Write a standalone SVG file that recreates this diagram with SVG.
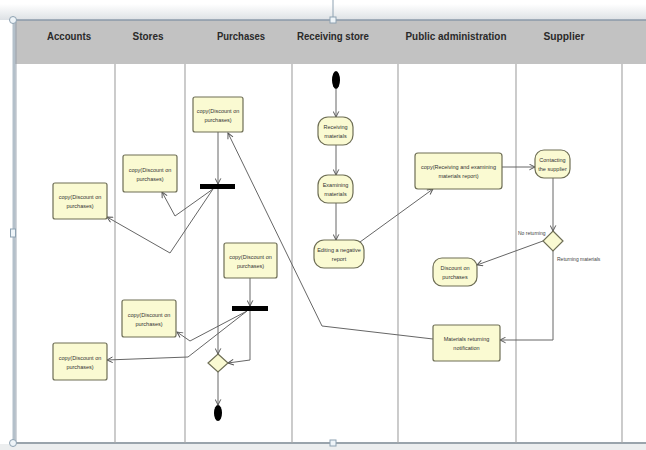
<svg xmlns="http://www.w3.org/2000/svg" width="646" height="450" viewBox="0 0 646 450">
  <defs>
    <linearGradient id="topShade" x1="0" y1="0" x2="0" y2="1">
      <stop offset="0" stop-color="#ffffff"/>
      <stop offset="1" stop-color="#dde1e5"/>
    </linearGradient>
    <marker id="arrow" viewBox="0 0 10 10" refX="9" refY="5" markerWidth="7" markerHeight="7" orient="auto" markerUnits="userSpaceOnUse">
      <path d="M1,1 L9,5 L1,9" fill="none" stroke="#555" stroke-width="1.4"/>
    </marker>
    <style>
      .lane { stroke: #a9a9a9; stroke-width: 1.2; }
      .hdr { font-family: "Liberation Sans", Arial, sans-serif; font-size: 10px; font-weight: bold; fill: #2a2a2a; text-anchor: middle; }
      .obj { fill: #fafad2; stroke: #6e6e55; stroke-width: 1.2; }
      .act { fill: #fafad2; stroke: #6e6e55; stroke-width: 1.2; }
      .lbl { font-family: "Liberation Sans", Arial, sans-serif; font-size: 5.5px; fill: #333; text-anchor: middle; }
      .note { font-family: "Liberation Sans", Arial, sans-serif; font-size: 5px; fill: #444; }
      .bar { fill: #000; }
      .conn { fill: none; stroke: #666; stroke-width: 1; marker-end: url(#arrow); }
      .handle { fill: #eef4f8; stroke: #8ea2b2; stroke-width: 1; }
    </style>
  </defs>

  <!-- canvas and swimlane frame -->
  <rect x="0" y="0" width="646" height="450" fill="#ffffff"/>
  <rect x="0" y="4" width="646" height="16" fill="url(#topShade)"/>
  <rect x="14" y="64" width="632" height="379" fill="#ffffff"/>
  <rect x="14" y="20" width="632" height="44" fill="#c2c2c2"/>
  <line x1="14" y1="20" x2="646" y2="20" stroke="#8a98a8" stroke-width="1.5"/>
  <line x1="14" y1="443" x2="646" y2="443" stroke="#9aa4ac" stroke-width="2"/>
  <rect x="0" y="444" width="646" height="6" fill="#eceeef"/>
  <line x1="14" y1="20" x2="14" y2="443" stroke="#b4c0ca" stroke-width="3"/>
  <line x1="16" y1="20" x2="16" y2="443" stroke="#8f9ba6" stroke-width="0.8"/>

  <!-- lane dividers -->
  <g id="lanes">
    <line class="lane" x1="115" y1="64" x2="115" y2="443"/>
    <line class="lane" x1="185" y1="64" x2="185" y2="443"/>
    <line class="lane" x1="292" y1="64" x2="292" y2="443"/>
    <line class="lane" x1="398" y1="64" x2="398" y2="443"/>
    <line class="lane" x1="516" y1="64" x2="516" y2="443"/>
    <line class="lane" x1="622" y1="64" x2="622" y2="443"/>
  </g>

  <!-- lane headers -->
  <g id="headers">
    <text class="hdr" x="69" y="40" textLength="44" lengthAdjust="spacingAndGlyphs">Accounts</text>
    <text class="hdr" x="148" y="40" textLength="31" lengthAdjust="spacingAndGlyphs">Stores</text>
    <text class="hdr" x="241" y="40" textLength="48" lengthAdjust="spacingAndGlyphs">Purchases</text>
    <text class="hdr" x="333" y="40" textLength="72" lengthAdjust="spacingAndGlyphs">Receiving store</text>
    <text class="hdr" x="456" y="40" textLength="101" lengthAdjust="spacingAndGlyphs">Public administration</text>
    <text class="hdr" x="564" y="40" textLength="41" lengthAdjust="spacingAndGlyphs">Supplier</text>
  </g>

  <!-- selection handles -->
  <g id="handles">
    <line x1="333" y1="0" x2="333" y2="17" stroke="#8ea2b2" stroke-width="1"/>
    <circle class="handle" cx="13" cy="20" r="3.5"/>
    <rect class="handle" x="330" y="17" width="6" height="6"/>
    <rect class="handle" x="10.5" y="229" width="5" height="8"/>
    <circle class="handle" cx="13" cy="443" r="3.5"/>
    <rect class="handle" x="330" y="440" width="6" height="6"/>
  </g>

  <!-- connectors -->
  <g id="connectors">
    <path class="conn" d="M336,89 V117"/>
    <path class="conn" d="M336,145 V175"/>
    <path class="conn" d="M336,203 V240"/>
    <path class="conn" d="M360,242 L433,189"/>
    <path class="conn" d="M502,167 L535,167"/>
    <path class="conn" d="M553,178 V231"/>
    <path class="conn" d="M543,241 L477,265"/>
    <path class="conn" d="M553,251 V340 H500"/>
    <path class="conn" d="M433,339 L322,326 L228,133"/>
    <path class="conn" d="M218,132 V184"/>
    <path class="conn" d="M213,189 L175,216 L162,192"/>
    <path class="conn" d="M213,189 L170,253 L107,217"/>
    <path class="conn" d="M218,189 V354"/>
    <path class="conn" d="M250,278 V306"/>
    <path class="conn" d="M247,311 L190,341 L177,332"/>
    <path class="conn" d="M247,311 L188,357 L107,360"/>
    <path class="conn" d="M250,311 V360 L228,363"/>
    <path class="conn" d="M218,372 V405"/>
  </g>

  <!-- guard labels -->
  <text class="note" x="518" y="235">No returning</text>
  <text class="note" x="557" y="261">Returning materials</text>

  <!-- Purchases lane -->
  <g id="p1">
    <rect class="obj" x="193" y="97" width="50" height="35" rx="2"/>
    <text class="lbl" x="218" y="113">copy(Discount on</text>
    <text class="lbl" x="218" y="122">purchases)</text>
  </g>
  <g id="fork1"><rect class="bar" x="200" y="184" width="35" height="5"/></g>
  <g id="p2">
    <rect class="obj" x="224" y="243" width="53" height="35" rx="2"/>
    <text class="lbl" x="250.5" y="259">copy(Discount on</text>
    <text class="lbl" x="250.5" y="268">purchases)</text>
  </g>
  <g id="fork2"><rect class="bar" x="232" y="306" width="36" height="5"/></g>
  <g id="merge"><polygon class="act" points="218,354 228,363 218,372 208,363"/></g>
  <g id="end"><ellipse cx="218" cy="413" rx="4" ry="8" fill="#000"/></g>

  <!-- Stores lane -->
  <g id="s1">
    <rect class="obj" x="123" y="155" width="54" height="37" rx="2"/>
    <text class="lbl" x="150" y="172">copy(Discount on</text>
    <text class="lbl" x="150" y="181">purchases)</text>
  </g>
  <g id="s2">
    <rect class="obj" x="122" y="300" width="54" height="37" rx="2"/>
    <text class="lbl" x="149" y="317">copy(Discount on</text>
    <text class="lbl" x="149" y="326">purchases)</text>
  </g>

  <!-- Accounts lane -->
  <g id="a1">
    <rect class="obj" x="53" y="183" width="54" height="36" rx="2"/>
    <text class="lbl" x="80" y="199">copy(Discount on</text>
    <text class="lbl" x="80" y="208">purchases)</text>
  </g>
  <g id="a2">
    <rect class="obj" x="53" y="343" width="54" height="37" rx="2"/>
    <text class="lbl" x="80" y="360">copy(Discount on</text>
    <text class="lbl" x="80" y="369">purchases)</text>
  </g>

  <!-- Receiving store lane -->
  <g id="start"><ellipse cx="336" cy="80" rx="4" ry="9" fill="#000"/></g>
  <g id="r1">
    <rect class="act" x="318" y="117" width="35" height="28" rx="10"/>
    <text class="lbl" x="335.5" y="129">Receiving</text>
    <text class="lbl" x="335.5" y="138">materials</text>
  </g>
  <g id="r2">
    <rect class="act" x="318" y="175" width="35" height="28" rx="10"/>
    <text class="lbl" x="335.5" y="187">Examining</text>
    <text class="lbl" x="335.5" y="196">materials</text>
  </g>
  <g id="r3">
    <rect class="act" x="314" y="240" width="50" height="28" rx="10"/>
    <text class="lbl" x="339" y="252">Editing a negative</text>
    <text class="lbl" x="339" y="261">report</text>
  </g>

  <!-- Public administration lane -->
  <g id="pa1">
    <rect class="obj" x="415" y="153" width="87" height="36" rx="3"/>
    <text class="lbl" x="458.5" y="169">copy(Receiving and examining</text>
    <text class="lbl" x="458.5" y="178">materials report)</text>
  </g>
  <g id="pa2">
    <rect class="act" x="433" y="258" width="44" height="28" rx="9"/>
    <text class="lbl" x="455" y="270">Discount on</text>
    <text class="lbl" x="455" y="279">purchases</text>
  </g>
  <g id="pa3">
    <rect class="obj" x="433" y="325" width="67" height="36" rx="2"/>
    <text class="lbl" x="466.5" y="341">Materials returning</text>
    <text class="lbl" x="466.5" y="350">notification</text>
  </g>

  <!-- Supplier lane -->
  <g id="su1">
    <rect class="act" x="535" y="150" width="35" height="28" rx="9"/>
    <text class="lbl" x="552.5" y="162">Contacting</text>
    <text class="lbl" x="552.5" y="171">the supplier</text>
  </g>
  <g id="decision"><polygon class="act" points="553,231 563,241 553,251 543,241"/></g>
</svg>
